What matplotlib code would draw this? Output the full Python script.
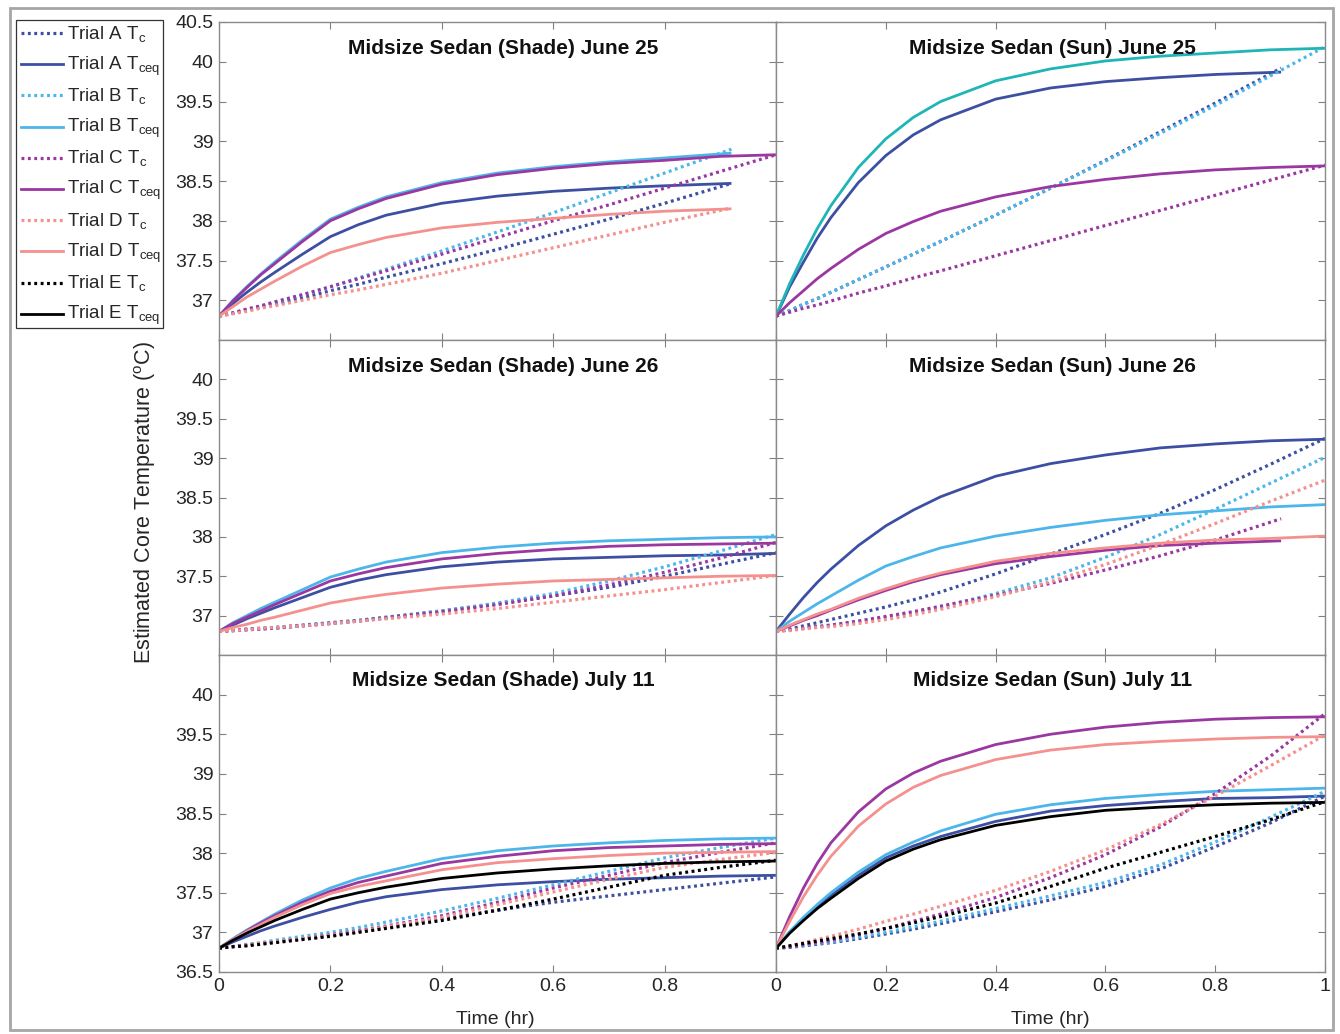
import matplotlib
matplotlib.use("Agg")
import matplotlib.pyplot as plt
from matplotlib.lines import Line2D
from matplotlib.patches import Rectangle
from matplotlib.ticker import FormatStrFormatter

plt.rcParams['font.family'] = 'Liberation Sans'
plt.rcParams['mathtext.fontset'] = 'custom'
plt.rcParams['mathtext.rm'] = 'Liberation Sans'
plt.rcParams['mathtext.it'] = 'Liberation Sans:italic'

# time grids (hr)
T_FULL = [0, 0.025, 0.05, 0.075, 0.1, 0.15, 0.2, 0.25, 0.3, 0.4, 0.5, 0.6, 0.7, 0.8, 0.9, 1.0]
T_SHORT = [0, 0.025, 0.05, 0.075, 0.1, 0.15, 0.2, 0.25, 0.3, 0.4, 0.5, 0.6, 0.7, 0.8, 0.92]

# --- Midsize Sedan (Shade) June 25 ---
sh25_A_ceq = [36.8, 36.96, 37.1, 37.23, 37.35, 37.58, 37.8, 37.95, 38.07, 38.22, 38.31, 38.37, 38.41, 38.44, 38.47]
sh25_B_ceq = [36.8, 37.0, 37.17, 37.33, 37.48, 37.76, 38.02, 38.17, 38.3, 38.48, 38.6, 38.68, 38.74, 38.79, 38.85]
sh25_C_ceq = [36.8, 36.99, 37.16, 37.32, 37.46, 37.74, 38.0, 38.15, 38.28, 38.46, 38.58, 38.66, 38.72, 38.76, 38.81, 38.83]
sh25_D_ceq = [36.8, 36.92, 37.04, 37.14, 37.24, 37.43, 37.6, 37.7, 37.79, 37.91, 37.98, 38.03, 38.08, 38.12, 38.15]
sh25_A_c = [36.8, 36.84, 36.88, 36.92, 36.95, 37.03, 37.12, 37.2, 37.29, 37.46, 37.64, 37.83, 38.02, 38.22, 38.47]
sh25_B_c = [36.8, 36.84, 36.88, 36.92, 36.97, 37.07, 37.17, 37.28, 37.39, 37.62, 37.86, 38.1, 38.35, 38.6, 38.9]
sh25_C_c = [36.8, 36.84, 36.89, 36.93, 36.98, 37.07, 37.17, 37.27, 37.37, 37.58, 37.79, 38.0, 38.2, 38.41, 38.62, 38.83]
sh25_D_c = [36.8, 36.83, 36.86, 36.9, 36.93, 37.0, 37.07, 37.13, 37.2, 37.34, 37.5, 37.66, 37.82, 37.98, 38.16]

# --- Midsize Sedan (Sun) June 25 ---
su25_A_ceq = [36.8, 37.17, 37.48, 37.78, 38.04, 38.48, 38.82, 39.08, 39.27, 39.53, 39.67, 39.75, 39.8, 39.84, 39.87]
su25_B_ceq = [36.8, 37.21, 37.57, 37.9, 38.19, 38.67, 39.03, 39.3, 39.5, 39.76, 39.91, 40.01, 40.07, 40.11, 40.15, 40.17]
su25_C_ceq = [36.8, 36.97, 37.12, 37.27, 37.4, 37.64, 37.84, 37.99, 38.12, 38.3, 38.43, 38.52, 38.59, 38.64, 38.67, 38.69]
su25_A_c = [36.8, 36.87, 36.95, 37.02, 37.1, 37.26, 37.42, 37.58, 37.74, 38.07, 38.41, 38.76, 39.12, 39.48, 39.92]
su25_B_c = [36.8, 36.87, 36.95, 37.02, 37.1, 37.26, 37.42, 37.58, 37.74, 38.07, 38.41, 38.75, 39.1, 39.45, 39.82, 40.19]
su25_C_c = [36.8, 36.85, 36.9, 36.94, 36.99, 37.09, 37.18, 37.28, 37.37, 37.56, 37.75, 37.94, 38.13, 38.32, 38.51, 38.7]

# --- Midsize Sedan (Shade) June 26 ---
sh26_A_ceq = [36.8, 36.88, 36.96, 37.03, 37.1, 37.23, 37.36, 37.45, 37.52, 37.62, 37.68, 37.72, 37.74, 37.76, 37.77, 37.79]
sh26_B_ceq = [36.8, 36.91, 37.0, 37.09, 37.17, 37.33, 37.49, 37.59, 37.68, 37.8, 37.87, 37.92, 37.95, 37.97, 37.99, 38.0]
sh26_C_ceq = [36.8, 36.9, 36.98, 37.06, 37.14, 37.29, 37.44, 37.53, 37.61, 37.72, 37.79, 37.84, 37.88, 37.9, 37.91, 37.92]
sh26_D_ceq = [36.8, 36.85, 36.89, 36.94, 36.98, 37.07, 37.16, 37.22, 37.27, 37.35, 37.4, 37.44, 37.46, 37.48, 37.5, 37.51]
sh26_A_c = [36.8, 36.81, 36.83, 36.84, 36.85, 36.88, 36.91, 36.94, 36.98, 37.06, 37.15, 37.25, 37.36, 37.5, 37.65, 37.8]
sh26_B_c = [36.8, 36.81, 36.82, 36.83, 36.84, 36.87, 36.9, 36.93, 36.97, 37.06, 37.16, 37.28, 37.44, 37.62, 37.82, 38.03]
sh26_C_c = [36.8, 36.81, 36.82, 36.83, 36.84, 36.87, 36.9, 36.93, 36.97, 37.05, 37.14, 37.25, 37.39, 37.55, 37.73, 37.93]
sh26_D_c = [36.8, 36.81, 36.82, 36.84, 36.85, 36.87, 36.9, 36.93, 36.96, 37.02, 37.09, 37.17, 37.25, 37.33, 37.42, 37.51]

# --- Midsize Sedan (Sun) June 26 ---
su26_A_ceq = [36.8, 37.02, 37.23, 37.42, 37.59, 37.89, 38.14, 38.34, 38.51, 38.77, 38.93, 39.04, 39.13, 39.18, 39.22, 39.24]
su26_B_ceq = [36.8, 36.93, 37.04, 37.15, 37.25, 37.45, 37.63, 37.75, 37.86, 38.01, 38.12, 38.21, 38.28, 38.33, 38.38, 38.41]
su26_C_ceq = [36.8, 36.87, 36.94, 37.0, 37.07, 37.2, 37.32, 37.43, 37.52, 37.66, 37.75, 37.83, 37.89, 37.92, 37.95]
su26_D_ceq = [36.8, 36.88, 36.95, 37.02, 37.08, 37.22, 37.34, 37.45, 37.54, 37.69, 37.79, 37.86, 37.92, 37.96, 37.98, 38.01]
su26_A_c = [36.8, 36.83, 36.87, 36.91, 36.95, 37.03, 37.11, 37.2, 37.3, 37.53, 37.78, 38.03, 38.3, 38.6, 38.92, 39.25]
su26_B_c = [36.8, 36.82, 36.84, 36.86, 36.88, 36.93, 36.98, 37.04, 37.11, 37.28, 37.48, 37.74, 38.03, 38.35, 38.68, 39.01]
su26_C_c = [36.8, 36.82, 36.84, 36.86, 36.88, 36.93, 36.99, 37.05, 37.12, 37.26, 37.41, 37.58, 37.76, 37.96, 38.23]
su26_D_c = [36.8, 36.81, 36.83, 36.85, 36.86, 36.9, 36.95, 37.01, 37.08, 37.24, 37.43, 37.65, 37.9, 38.17, 38.45, 38.72]

# --- Midsize Sedan (Shade) July 11 ---
sh11_A_ceq = [36.8, 36.88, 36.95, 37.02, 37.08, 37.19, 37.29, 37.38, 37.45, 37.54, 37.6, 37.64, 37.67, 37.69, 37.71, 37.72]
sh11_B_ceq = [36.8, 36.92, 37.03, 37.13, 37.23, 37.41, 37.56, 37.68, 37.77, 37.93, 38.03, 38.09, 38.13, 38.16, 38.18, 38.19]
sh11_C_ceq = [36.8, 36.91, 37.02, 37.12, 37.21, 37.38, 37.52, 37.63, 37.71, 37.87, 37.96, 38.03, 38.07, 38.09, 38.11, 38.12]
sh11_D_ceq = [36.8, 36.91, 37.01, 37.1, 37.19, 37.35, 37.49, 37.58, 37.65, 37.79, 37.88, 37.93, 37.97, 38.0, 38.01, 38.02]
sh11_E_ceq = [36.8, 36.9, 36.99, 37.07, 37.15, 37.29, 37.42, 37.5, 37.57, 37.68, 37.75, 37.8, 37.84, 37.87, 37.89, 37.9]
sh11_A_c = [36.8, 36.82, 36.84, 36.86, 36.88, 36.92, 36.96, 37.01, 37.06, 37.17, 37.28, 37.38, 37.46, 37.54, 37.62, 37.7]
sh11_B_c = [36.8, 36.82, 36.85, 36.87, 36.9, 36.95, 37.0, 37.06, 37.13, 37.27, 37.43, 37.6, 37.77, 37.94, 38.07, 38.19]
sh11_C_c = [36.8, 36.82, 36.84, 36.86, 36.88, 36.92, 36.97, 37.02, 37.08, 37.21, 37.38, 37.56, 37.72, 37.88, 38.01, 38.13]
sh11_D_c = [36.8, 36.82, 36.84, 36.86, 36.88, 36.92, 36.96, 37.01, 37.07, 37.19, 37.35, 37.51, 37.67, 37.82, 37.92, 38.01]
sh11_E_c = [36.8, 36.82, 36.83, 36.85, 36.87, 36.91, 36.95, 37.0, 37.05, 37.15, 37.28, 37.42, 37.57, 37.72, 37.82, 37.91]

# --- Midsize Sedan (Sun) July 11 ---
su11_A_ceq = [36.8, 37.0, 37.17, 37.33, 37.47, 37.72, 37.94, 38.09, 38.21, 38.4, 38.53, 38.6, 38.65, 38.69, 38.7, 38.72]
su11_B_ceq = [36.8, 37.01, 37.19, 37.35, 37.5, 37.76, 37.98, 38.14, 38.28, 38.49, 38.61, 38.69, 38.74, 38.78, 38.8, 38.82]
su11_C_ceq = [36.8, 37.2, 37.56, 37.87, 38.13, 38.52, 38.81, 39.01, 39.16, 39.37, 39.5, 39.59, 39.65, 39.69, 39.71, 39.72]
su11_D_ceq = [36.8, 37.14, 37.45, 37.72, 37.96, 38.34, 38.62, 38.83, 38.98, 39.18, 39.3, 39.37, 39.41, 39.44, 39.46, 39.47]
su11_E_ceq = [36.8, 36.99, 37.15, 37.3, 37.43, 37.68, 37.9, 38.05, 38.17, 38.35, 38.46, 38.54, 38.58, 38.61, 38.63, 38.64]
su11_A_c = [36.8, 36.81, 36.83, 36.85, 36.87, 36.92, 36.98, 37.04, 37.11, 37.26, 37.41, 37.58, 37.8, 38.08, 38.38, 38.72]
su11_B_c = [36.8, 36.82, 36.84, 36.86, 36.88, 36.94, 37.0, 37.07, 37.14, 37.3, 37.46, 37.63, 37.85, 38.14, 38.45, 38.78]
su11_C_c = [36.8, 36.82, 36.85, 36.87, 36.9, 36.97, 37.05, 37.14, 37.23, 37.44, 37.69, 37.98, 38.33, 38.75, 39.22, 39.76]
su11_D_c = [36.8, 36.83, 36.87, 36.91, 36.95, 37.04, 37.14, 37.23, 37.33, 37.53, 37.77, 38.04, 38.36, 38.72, 39.1, 39.49]
su11_E_c = [36.8, 36.83, 36.86, 36.89, 36.92, 36.98, 37.05, 37.12, 37.2, 37.37, 37.58, 37.81, 38.01, 38.21, 38.42, 38.65]

TITLES = ["Midsize Sedan (Shade) June 25", "Midsize Sedan (Sun) June 25",
          "Midsize Sedan (Shade) June 26", "Midsize Sedan (Sun) June 26",
          "Midsize Sedan (Shade) July 11", "Midsize Sedan (Sun) July 11"]

COL = {'A': '#3d4fa2', 'B': '#4cb6ea', 'C': '#9a37a1', 'D': '#f4918f', 'E': '#000000'}
TEAL = '#1fb5b7'

# (trial, is_ceq, values[, colour override])
panels = [
    [('A', False, sh25_A_c), ('A', True, sh25_A_ceq), ('B', False, sh25_B_c), ('B', True, sh25_B_ceq),
     ('C', False, sh25_C_c), ('C', True, sh25_C_ceq), ('D', False, sh25_D_c), ('D', True, sh25_D_ceq)],
    [('A', False, su25_A_c), ('A', True, su25_A_ceq), ('B', False, su25_B_c), ('B', True, su25_B_ceq, TEAL),
     ('C', False, su25_C_c), ('C', True, su25_C_ceq)],
    [('A', False, sh26_A_c), ('A', True, sh26_A_ceq), ('B', False, sh26_B_c), ('B', True, sh26_B_ceq),
     ('C', False, sh26_C_c), ('C', True, sh26_C_ceq), ('D', False, sh26_D_c), ('D', True, sh26_D_ceq)],
    [('A', False, su26_A_c), ('A', True, su26_A_ceq), ('B', False, su26_B_c), ('B', True, su26_B_ceq),
     ('C', False, su26_C_c), ('C', True, su26_C_ceq), ('D', False, su26_D_c), ('D', True, su26_D_ceq)],
    [('A', False, sh11_A_c), ('A', True, sh11_A_ceq), ('B', False, sh11_B_c), ('B', True, sh11_B_ceq),
     ('C', False, sh11_C_c), ('C', True, sh11_C_ceq), ('D', False, sh11_D_c), ('D', True, sh11_D_ceq),
     ('E', False, sh11_E_c), ('E', True, sh11_E_ceq)],
    [('A', False, su11_A_c), ('A', True, su11_A_ceq), ('B', False, su11_B_c), ('B', True, su11_B_ceq),
     ('C', False, su11_C_c), ('C', True, su11_C_ceq), ('D', False, su11_D_c), ('D', True, su11_D_ceq),
     ('E', False, su11_E_c), ('E', True, su11_E_ceq)],
]

DOT = (0, (0.9, 1.1))
W, H = 1340, 1034
fig = plt.figure(figsize=(W / 100, H / 100), dpi=100)

col_x = [219, 776]
col_w = [557, 549]
row_top = [22, 340, 655]
row_h = [318, 315, 317]
title_x = [0.51, 0.503]
yticks_row = [[37, 37.5, 38, 38.5, 39, 39.5, 40, 40.5],
              [37, 37.5, 38, 38.5, 39, 39.5, 40],
              [36.5, 37, 37.5, 38, 38.5, 39, 39.5, 40]]
xticks_col = [[0, 0.2, 0.4, 0.6, 0.8], [0, 0.2, 0.4, 0.6, 0.8, 1.0]]

for i, series in enumerate(panels):
    r, c = divmod(i, 2)
    rect = [col_x[c] / W, (H - row_top[r] - row_h[r]) / H, col_w[c] / W, row_h[r] / H]
    ax = fig.add_axes(rect)
    for s in series:
        trial, ceq, vals = s[0], s[1], s[2]
        color = s[3] if len(s) > 3 else COL[trial]
        t = T_FULL if len(vals) == len(T_FULL) else T_SHORT
        if ceq:
            ax.plot(t, vals, color=color, lw=2.0, solid_capstyle='butt', solid_joinstyle='round')
        else:
            ax.plot(t, vals, color=color, lw=2.3, linestyle=DOT, dash_capstyle='butt')
    ax.set_xlim(0, 1)
    ax.set_ylim(36.5, 40.5)
    ax.set_yticks(yticks_row[r])
    ax.set_xticks(xticks_col[c])
    ax.xaxis.set_major_formatter(FormatStrFormatter('%g'))
    ax.yaxis.set_major_formatter(FormatStrFormatter('%g'))
    ax.tick_params(direction='in', top=True, right=True, length=5, width=0.8,
                   color='#808080', labelcolor='#262626', labelsize=14, pad=4)
    if c == 1:
        ax.tick_params(labelleft=False)
    if r < 2:
        ax.tick_params(labelbottom=False)
    for sp in ax.spines.values():
        sp.set_color('#8a8a8a')
        sp.set_linewidth(1.0)
    ax.text(title_x[c], 1 - 31.5 / row_h[r], TITLES[i], transform=ax.transAxes, ha='center',
            va='baseline', fontsize=15, fontweight='bold', color='#111111')

fig.text(145 / W, 1 - 503 / H, 'Estimated Core Temperature ($^{\\mathrm{o}}$C)', rotation=90,
         ha='center', va='center', fontsize=15.5, color='#262626')
fig.text(495 / W, 1 - 1019 / H, 'Time (hr)', ha='center', va='center', fontsize=14, color='#262626')
fig.text(1050 / W, 1 - 1019 / H, 'Time (hr)', ha='center', va='center', fontsize=14, color='#262626')

# legend, drawn by hand so the rows are evenly spaced
fig.patches.append(Rectangle((16 / W, 1 - 328 / H), 147 / W, 308 / H, transform=fig.transFigure,
                             fill=False, edgecolor='#333333', lw=0.9))
k = 0
for trial in 'ABCDE':
    for ceq in (False, True):
        y = 32 + 31.2 * k
        if ceq:
            ln = Line2D([21 / W, 63 / W], [1 - (y + 1) / H] * 2, transform=fig.transFigure,
                        color=COL[trial], lw=2.0)
            lab = 'Trial %s T$_{\\mathrm{ceq}}$' % trial
        else:
            ln = Line2D([21 / W, 63 / W], [1 - (y + 1) / H] * 2, transform=fig.transFigure,
                        color=COL[trial], lw=2.3, linestyle=DOT, dash_capstyle='butt')
            lab = 'Trial %s T$_{\\mathrm{c}}$' % trial
        fig.lines.append(ln)
        fig.text(67 / W, 1 - (y + 6.5) / H, lab, ha='left', va='baseline', fontsize=13.5,
                 color='#262626')
        k += 1

fig.patches.append(Rectangle((10 / W, 4 / H), 1323 / W, 1022 / H, transform=fig.transFigure,
                             fill=False, edgecolor='#a6a6a6', lw=2))

fig.savefig('out.png', dpi=100)
